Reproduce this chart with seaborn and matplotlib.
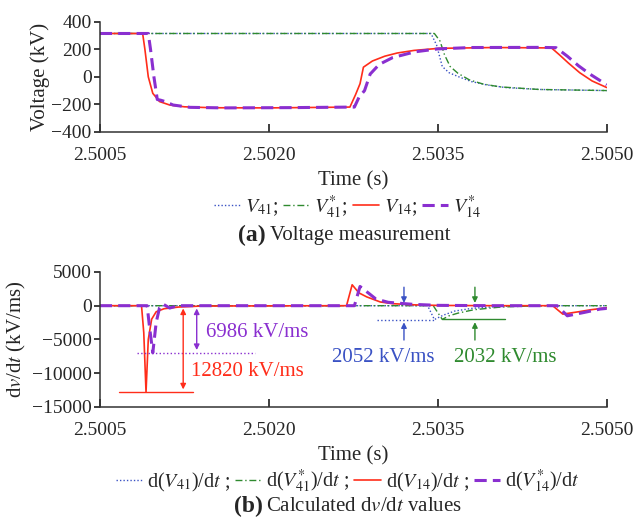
import matplotlib
matplotlib.use("Agg")
import matplotlib.pyplot as plt
import seaborn as sns
from matplotlib.ticker import FormatStrFormatter
from matplotlib.lines import Line2D

t_v14 = [2.5005, 2.50088, 2.50090, 2.50093, 2.50097, 2.50103, 2.50112, 2.50125, 2.50150,
         2.50200, 2.50250, 2.50272, 2.50277, 2.50281, 2.50284, 2.50292, 2.50303, 2.50314,
         2.50329, 2.50351, 2.50400, 2.50451, 2.50458, 2.50466, 2.50476, 2.50487, 2.50500]
v14 = [315, 315, 200, 0, -120, -180, -205, -218, -225,
       -226, -222, -220, -130, -50, 70, 115, 150, 173,
       192, 207, 213, 210, 160, 100, 30, -30, -78]

t_v14s = [2.5005, 2.50093, 2.50095, 2.50098, 2.50101, 2.50104, 2.50108, 2.50115, 2.50130,
          2.50160, 2.50220, 2.50276, 2.50280, 2.50285, 2.50290, 2.50298, 2.50310, 2.50330,
          2.50350, 2.50380, 2.50440, 2.50455, 2.50465, 2.50475, 2.50485, 2.50500]
v14s = [315, 315, 200, 0, -165, -170, -180, -205, -222,
        -226, -224, -220, -150, -100, 20, 90, 140, 182,
        203, 213, 214, 212, 150, 80, 20, -58]

t_v41 = [2.5005, 2.50344, 2.50349, 2.50354, 2.50360, 2.50368, 2.50380, 2.50393, 2.50410, 2.50440, 2.50500]
v41 = [315, 315, 230, 75, 30, 2, -35, -58, -78, -92, -100]

t_v41s = [2.5005, 2.50347, 2.50352, 2.50356, 2.50361, 2.50368, 2.50378, 2.50390, 2.50405, 2.50440, 2.50500]
v41s = [315, 315, 260, 160, 75, 25, -22, -52, -73, -92, -100]

# ---- (b) calculated dv/dt ----
t_d14 = [2.5005, 2.50087, 2.50089, 2.50091, 2.50093, 2.50096, 2.50100, 2.50107, 2.50120,
         2.50140, 2.50269, 2.50274, 2.50280, 2.50287, 2.50299, 2.50310, 2.50330, 2.50350,
         2.50400, 2.50452, 2.50461, 2.50475, 2.50486, 2.50500]
d14 = [0, 0, -4000, -12820, -5000, -2000, -900, -450, -200,
       -50, 0, 3100, 1900, 1300, 550, 300, 120, 40,
       0, 0, -1250, -900, -600, -300]

t_d14s = [2.5005, 2.50092, 2.50094, 2.50097, 2.50100, 2.50103, 2.50106, 2.50112, 2.50119,
          2.50276, 2.50281, 2.50289, 2.50295, 2.50306, 2.50328, 2.50350, 2.50400, 2.50456,
          2.50465, 2.50480, 2.50494, 2.50500]
d14s = [0, 0, -3000, -6986, -2500, -300, 250, -350, 0,
        0, 2850, 1800, 1000, 500, 200, 50, 0, 0,
        -1500, -1000, -500, -400]

t_d41 = [2.5005, 2.50341, 2.50347, 2.50355, 2.50365, 2.50380, 2.50400, 2.50430, 2.50500]
d41 = [0, 0, -2052, -1400, -800, -400, -150, 0, 0]

t_d41s = [2.5005, 2.50346, 2.50354, 2.50360, 2.50368, 2.50382, 2.50406, 2.50440, 2.50500]
d41s = [0, 0, -2032, -1500, -1100, -600, -200, 0, 0]

x_ticks = [2.5005, 2.5020, 2.5035, 2.5050]

c_blue = "#3a52c4"
c_green = "#2f8a2f"
c_red = "#ff2d1a"
c_purple = "#8a2fd0"

sns.set_theme(style="ticks")
plt.rcParams["font.family"] = ["Liberation Serif", "DejaVu Serif"]
plt.rcParams["mathtext.fontset"] = "stix"
plt.rcParams["font.size"] = 14

fig = plt.figure(figsize=(6.4, 5.19), dpi=100)
ax1 = fig.add_axes([0.156, 0.746, 0.792, 0.212])
ax2 = fig.add_axes([0.156, 0.216, 0.792, 0.260])

styles = [
    (c_blue, (0, (1, 1.5)), 1.0),
    (c_green, (0, (5, 2, 1, 2)), 1.0),
    (c_red, "-", 1.2),
    (c_purple, (0, (4, 2)), 2.2),
]

top_series = [(t_v41, v41), (t_v41s, v41s), (t_v14, v14), (t_v14s, v14s)]
bot_series = [(t_d41, d41), (t_d41s, d41s), (t_d14, d14), (t_d14s, d14s)]

for ax, series in [(ax1, top_series), (ax2, bot_series)]:
    for (tx, vy), (c, ls, lw) in zip(series, styles):
        sns.lineplot(x=tx, y=vy, ax=ax, color=c, linestyle=ls, lw=lw, estimator=None, sort=False)

for ax in (ax1, ax2):
    ax.set_xlim(2.5005, 2.5050)
    ax.set_xticks(x_ticks)
    ax.xaxis.set_major_formatter(FormatStrFormatter("%.4f"))
    ax.tick_params(axis="x", direction="in", length=6, labelsize=14, pad=11)
    ax.tick_params(axis="y", direction="out", length=4, labelsize=14, pad=2)
    ax.set_xlabel("Time (s)", fontsize=15, labelpad=5)
    for sp in ("left", "bottom"):
        ax.spines[sp].set_color("#333333")
        ax.spines[sp].set_linewidth(1.1)
    sns.despine(ax=ax)

ax1.set_ylim(-400, 400)
ax1.set_yticks([-400, -200, 0, 200, 400])
ax1.set_ylabel("Voltage (kV)", fontsize=15)
ax1.yaxis.set_label_coords(-0.099, 0.5)

ax2.set_ylim(-15000, 5000)
ax2.set_yticks([-15000, -10000, -5000, 0, 5000])
ax2.set_ylabel(r"d$v$/d$t$ (kV/ms)", fontsize=15)
ax2.yaxis.set_label_coords(-0.142, 0.5)

# annotations on (b)
ax2.plot([2.50083, 2.50188], [-6986, -6986], color=c_purple, ls=":", lw=1)
ax2.annotate("", xy=(2.50136, -6986), xytext=(2.50136, 0),
             arrowprops=dict(arrowstyle="<|-|>", color=c_purple, lw=1, mutation_scale=8))
ax2.text(2.50144, -4000, "6986 kV/ms", color=c_purple, fontsize=15, va="center")

ax2.plot([2.50067, 2.50133], [-12820, -12820], color=c_red, ls="-", lw=1)
ax2.annotate("", xy=(2.50124, -12820), xytext=(2.50124, 0),
             arrowprops=dict(arrowstyle="<|-|>", color=c_red, lw=1, mutation_scale=8))
ax2.text(2.50131, -9700, "12820 kV/ms", color=c_red, fontsize=15, va="center")

ax2.plot([2.50296, 2.50347], [-2052, -2052], color=c_blue, ls=":", lw=1)
ax2.annotate("", xy=(2.50320, 0), xytext=(2.50320, 3150),
             arrowprops=dict(arrowstyle="-|>", color=c_blue, lw=1, mutation_scale=8))
ax2.annotate("", xy=(2.50320, -2052), xytext=(2.50320, -5500),
             arrowprops=dict(arrowstyle="-|>", color=c_blue, lw=1, mutation_scale=8))
ax2.text(2.50302, -7700, "2052 kV/ms", color=c_blue, fontsize=15, va="center", ha="center")

ax2.plot([2.50354, 2.50410], [-2032, -2032], color=c_green, ls="-", lw=1)
ax2.annotate("", xy=(2.50383, 0), xytext=(2.50383, 3150),
             arrowprops=dict(arrowstyle="-|>", color=c_green, lw=1, mutation_scale=8))
ax2.annotate("", xy=(2.50383, -2032), xytext=(2.50383, -5500),
             arrowprops=dict(arrowstyle="-|>", color=c_green, lw=1, mutation_scale=8))
ax2.text(2.50410, -7700, "2032 kV/ms", color=c_green, fontsize=15, va="center", ha="center")

# legends and captions
handles = [Line2D([], [], color=c, ls=ls, lw=lw) for c, ls, lw in styles]
top_labels = [r"$V_{41}$;", r"$V_{41}^{*}$;", r"$V_{14}$;", r"$V_{14}^{*}$"]
bot_labels = [r"d($V_{41}$)/d$t$ ;", r"d($V_{41}^{*}$)/d$t$ ;",
              r"d($V_{14}$)/d$t$ ;", r"d($V_{14}^{*}$)/d$t$"]

leg_kw = dict(loc="center", ncol=4, frameon=False, fontsize=14.5, handlelength=1.3,
              handletextpad=0.25, columnspacing=0.25, borderpad=0)
fig.legend(handles, top_labels, bbox_to_anchor=(0.543, 0.601), **leg_kw)
fig.legend(handles, bot_labels, bbox_to_anchor=(0.543, 0.072), **leg_kw)

fig.text(0.415, 0.547, "(a)", ha="right", va="center", fontsize=17, fontweight="bold")
fig.text(0.422, 0.547, "Voltage measurement", ha="left", va="center", fontsize=15)
fig.text(0.410, 0.024, "(b)", ha="right", va="center", fontsize=17, fontweight="bold")
fig.text(0.416, 0.024, r"Calculated d$v$/d$t$ values", ha="left", va="center", fontsize=15)

fig.savefig("out.png", dpi=100)
